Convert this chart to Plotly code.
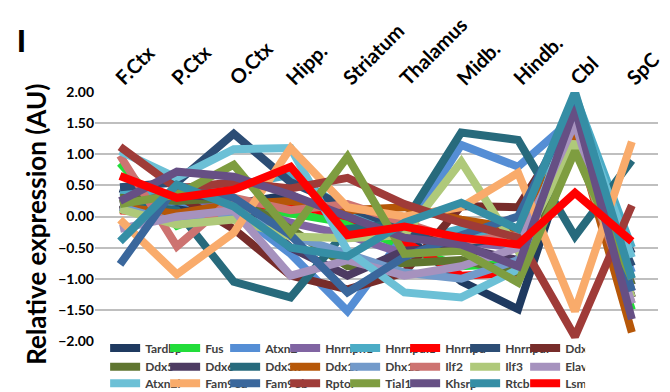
import plotly.graph_objects as go

# Brain regions (x categories)
regions = ["F.Ctx", "P.Ctx", "O.Ctx", "Hipp.", "Striatum", "Thalamus",
           "Midb.", "Hindb.", "Cbl", "SpC"]

# Relative expression per gene across regions
tardbp   = [0.45, 0.15, 0.20, 0.35, -0.10, -0.30, -1.04, -1.49, 1.30, -0.60]
fus      = [0.86, -0.15, 0.20, 0.05, -0.10, -0.50, -0.80, -0.75, 1.30, -1.50]
atxn2    = [0.10, 0.25, 0.10, -0.60, -1.52, -0.30, 1.15, 0.80, 1.60, -0.90]
hnrnph1  = [0.20, 0.30, 0.20, -0.10, -0.30, -0.60, -0.40, -0.50, 1.60, -1.10]
hnrnpul1 = [0.40, 0.30, 0.50, 0.67, 0.10, -0.40, -0.20, -0.50, 1.95, -0.50]
hnrnpu   = [0.10, 0.03, 0.15, 0.20, 0.00, -0.40, -0.95, -0.90, 1.20, -1.20]
hnrnpdl  = [0.47, 0.55, 1.33, 0.55, 0.15, -0.20, -0.45, -0.30, 1.35, -0.80]
ddx1     = [0.10, 0.35, -0.20, -0.95, -1.17, -0.90, 0.17, 0.15, 1.60, -1.30]
ddx5     = [0.30, 0.25, 0.30, -0.20, -0.80, -0.75, -0.70, -0.90, 1.10, -1.10]
ddx6     = [0.20, 0.35, 0.30, -0.50, -0.95, -0.55, -0.50, -0.70, 1.45, -1.30]
ddx3x    = [0.20, 0.10, -1.05, -1.30, -0.20, -0.10, 1.35, 1.23, -0.32, 0.90]
ddx17    = [0.15, 0.05, 0.20, 0.25, 0.10, 0.15, -0.05, -0.20, 1.35, -1.86]
dhx15    = [0.15, -0.10, 0.05, -0.30, -0.60, -0.90, -1.00, -0.70, 1.70, -1.20]
ilf2     = [0.98, -0.48, 0.30, 0.10, 0.20, -0.10, -0.40, -0.30, 1.20, -1.40]
ilf3     = [0.12, -0.13, -0.05, -0.32, -0.35, -0.30, 0.88, -0.55, 1.20, -1.30]
elavl1   = [-0.20, 0.00, 0.10, -0.95, -0.70, -0.95, -0.80, -0.50, 1.50, -1.40]
atxn2l   = [1.05, 0.62, 1.08, 1.10, -0.55, -1.22, -1.30, -0.85, 1.85, -0.66]
fam98a   = [-0.05, -0.93, -0.26, 1.10, 0.15, 0.00, 0.15, 0.70, -1.52, 1.20]
fam98b   = [-0.77, 0.50, 0.30, -0.30, -1.22, -0.65, -0.30, 0.00, 1.80, -1.20]
rptor    = [1.12, 0.45, 0.55, 0.45, 0.62, 0.20, -0.10, -0.34, -1.93, 0.18]
tial1    = [0.20, 0.35, 0.83, -0.26, 0.96, -0.60, -0.55, -1.06, 1.05, -1.00]
khsrp    = [0.25, 0.72, 0.64, 0.35, 0.00, -0.34, -0.45, -0.80, 1.75, -1.65]
rtcb     = [-0.40, 0.51, 0.16, -0.50, -0.64, -0.10, 0.22, -0.20, 2.00, -1.00]
lsm12    = [0.65, 0.30, 0.43, 0.80, -0.30, -0.16, -0.34, -0.45, 0.38, -0.40]

gene_names = ["Tardbp", "Fus", "Atxn2", "Hnrnph1", "Hnrnpul1", "Hnrnpu",
              "Hnrnpdl", "Ddx1", "Ddx5", "Ddx6", "Ddx3x", "Ddx17", "Dhx15",
              "Ilf2", "Ilf3", "Elavl1", "Atxn2l", "Fam98a", "Fam98b", "Rptor",
              "Tial1", "Khsrp", "Rtcb", "Lsm12"]
gene_values = [tardbp, fus, atxn2, hnrnph1, hnrnpul1, hnrnpu, hnrnpdl, ddx1,
               ddx5, ddx6, ddx3x, ddx17, dhx15, ilf2, ilf3, elavl1, atxn2l,
               fam98a, fam98b, rptor, tial1, khsrp, rtcb, lsm12]
gene_colors = ["#1F3A60", "#22DD3A", "#558ED5", "#8064A2", "#4BACC6", "#FF0000",
               "#2C4D75", "#772C2A", "#5F7530", "#4D3B62", "#276A7C", "#B65708",
               "#729ACA", "#CD7371", "#AFC97A", "#A692BE", "#6CC0D6", "#F9AB6B",
               "#3A679C", "#9F3B38", "#7E9D40", "#664F84", "#358EA5", "#FF0000"]

# Legend laid out as three rows of eight entries
legend_rows = ["legend", "legend2", "legend3"]
per_row = 8

fig = go.Figure()
for i, (name, vals, col) in enumerate(zip(gene_names, gene_values, gene_colors)):
    fig.add_trace(go.Scatter(
        x=regions, y=vals, name=name, mode="lines",
        line=dict(color=col, width=8),
        legend=legend_rows[i // per_row],
    ))

legend_font = dict(family="Lato", size=12, color="#404040", weight="bold")
row_y = [-0.028, -0.103, -0.170]
legend_common = dict(
    orientation="h", x=0.018, xanchor="left", yanchor="middle",
    entrywidth=15, entrywidthmode="pixels", itemwidth=30,
    font=legend_font, bgcolor="rgba(0,0,0,0)", borderwidth=0,
)

# Region labels along the top, slanted
region_labels = [
    dict(text=r, xref="x", yref="paper", x=r, y=1.0,
         xanchor="left", yanchor="bottom", textangle=-45,
         xshift=-13, yshift=0, showarrow=False,
         font=dict(family="Lato", size=20, color="black", weight="bold"))
    for r in regions
]

fig.update_layout(
    width=670, height=392,
    margin=dict(l=95, r=12, t=92, b=51, autoexpand=False),
    paper_bgcolor="white", plot_bgcolor="white",
    font=dict(family="Lato", color="black"),
    showlegend=True,
    legend=dict(y=row_y[0], **legend_common),
    legend2=dict(y=row_y[1], **legend_common),
    legend3=dict(y=row_y[2], **legend_common),
    xaxis=dict(
        type="category", range=[-0.44, 9.46],
        showticklabels=False,
        showgrid=False, showline=False, zeroline=False, ticks="",
    ),
    yaxis=dict(
        range=[-2, 2], dtick=0.5, tickformat=".2f",
        tickfont=dict(family="Lato", size=14, color="black", weight="bold"),
        showgrid=True, gridcolor="#BFBFBF", gridwidth=2,
        zeroline=False, showline=False, ticks="",
    ),
    annotations=region_labels + [
        dict(text="Relative expression (AU)", textangle=-90,
             xref="paper", yref="paper", x=-0.105, y=0.47,
             xanchor="center", yanchor="middle", showarrow=False,
             font=dict(family="Lato", size=26, color="black", weight="bold")),
        dict(text="I", xref="paper", yref="paper", x=-0.1297, y=1.203,
             xanchor="center", yanchor="middle", showarrow=False,
             font=dict(family="Liberation Sans", size=32, color="black",
                       weight="bold")),
    ],
)

fig.write_html("out.html")
